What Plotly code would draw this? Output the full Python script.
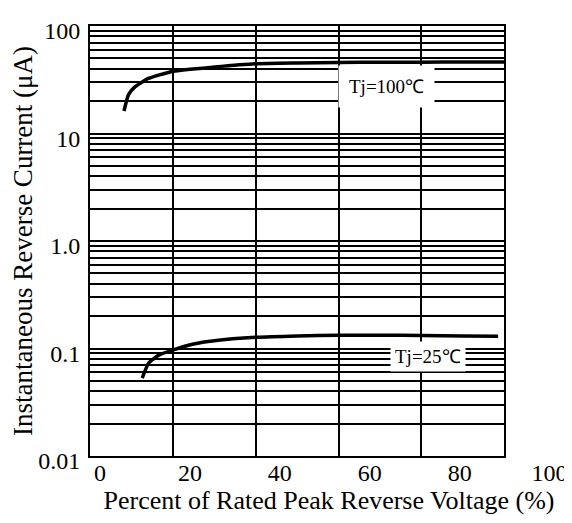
import plotly.graph_objects as go

# Data
x_100 = [8.2, 9.3, 10.9, 14.1, 20.1, 30, 40, 50, 60, 70, 80, 90, 100]
y_100 = [16.2, 23.0, 27.3, 32.5, 38.0, 41.5, 44.5, 45.3, 45.8, 46.0, 46.1, 46.2, 46.2]

x_25 = [12.6, 14.1, 16.5, 20.1, 25, 30, 40, 50, 60, 70, 80, 90, 98.5]
y_25 = [0.053, 0.0726, 0.0863, 0.097, 0.110, 0.118, 0.127, 0.131, 0.133, 0.133, 0.132, 0.131, 0.130]

x_tick_vals = [0, 20, 40, 60, 80, 100]
x_tick_text = ["0", "20", "40", "60", "80", "100"]
y_decades = [0.01, 0.1, 1.0, 10, 100]
y_decade_text = ["0.01", "0.1", "1.0", "10", "100"]
curve_labels = ["Tj=100℃", "Tj=25℃"]

# all log grid positions (1..9 x decade)
y_grid_vals = []
y_grid_text = []
for d, t in zip(y_decades, y_decade_text):
    for m in range(1, 10):
        if d == 100 and m > 1:
            break
        y_grid_vals.append(m * d)
        y_grid_text.append(t if m == 1 else "")

FONT = "Liberation Serif, Times New Roman, serif"

fig = go.Figure()
fig.add_trace(go.Scatter(x=x_100, y=y_100, mode="lines", line=dict(color="black", width=3.5, shape="spline", smoothing=0.5),
                         showlegend=False, hoverinfo="skip"))
fig.add_trace(go.Scatter(x=x_25, y=y_25, mode="lines", line=dict(color="black", width=3.5, shape="spline", smoothing=0.5),
                         showlegend=False, hoverinfo="skip"))
# empty trace so the label axis (x2) gets its own transparent subplot
fig.add_trace(go.Scatter(x=[], y=[], xaxis="x2", yaxis="y2", showlegend=False, hoverinfo="skip"))

fig.add_annotation(x=71.5, y=1.44, xref="x", yref="y", text=curve_labels[0], showarrow=False,
                   font=dict(family=FONT, size=19, color="black"), bgcolor="white", borderpad=10)
fig.add_annotation(x=81.6, y=-1.07, xref="x", yref="y", text=curve_labels[1], showarrow=False,
                   font=dict(family=FONT, size=19, color="black"), bgcolor="white", borderpad=4)

L, R = 81, 12
W = 572 - L - R
fig.update_layout(
    width=572, height=523,
    margin=dict(l=L, r=R, t=10, b=75),
    paper_bgcolor="white", plot_bgcolor="rgba(0,0,0,0)",
    font=dict(family=FONT, size=24, color="black"),
    xaxis=dict(domain=[0, 415.2 / W], range=[0, 100], anchor="y",
               showline=True, mirror=True, linecolor="black", linewidth=2,
               showgrid=True, gridcolor="black", gridwidth=2, tick0=0, dtick=20,
               showticklabels=False, ticks="", zeroline=False),
    xaxis2=dict(domain=[0, 1], range=[-2.22, 104.1], anchor="y2",
                tickmode="array", tickvals=x_tick_vals, ticktext=x_tick_text,
                showgrid=False, showline=False, zeroline=False, ticks="",
                tickfont=dict(family=FONT, size=24, color="black"),
                title=dict(text="Percent of Rated Peak Reverse Voltage (%)",
                           font=dict(family=FONT, size=26, color="black"), standoff=0)),
    yaxis=dict(type="log", range=[-2, 2], anchor="x",
               showline=True, mirror=True, linecolor="black", linewidth=2,
               showgrid=True, gridcolor="black", gridwidth=1.6,
               tickmode="array", tickvals=y_grid_vals, ticktext=y_grid_text, ticks="",
               ticklabelstandoff=3, ticklabelshift=5,
               tickfont=dict(family=FONT, size=24, color="black"), zeroline=False,
               title=dict(text="Instantaneous Reverse Current (μA)",
                          font=dict(family=FONT, size=27, color="black"), standoff=1)),
    yaxis2=dict(type="log", range=[-2, 2], anchor="x2", showgrid=False, showline=False,
                showticklabels=False, zeroline=False, ticks=""),
)

fig.write_html("out.html")
